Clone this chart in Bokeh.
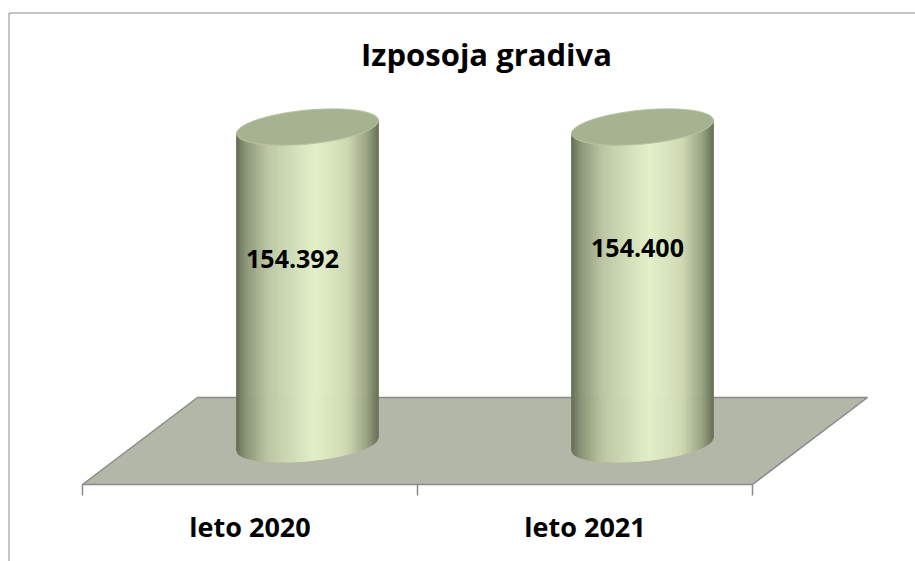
import numpy as np
from bokeh.plotting import figure
from bokeh.models import Range1d
from bokeh.core.properties import value
from bokeh.embed import file_html
from bokeh.resources import INLINE

# ---------------- data ----------------
title_text = "Izposoja gradiva"
categories = ["leto 2020", "leto 2021"]
values = [154392, 154400]
value_labels = ["154.392", "154.400"]

# ---------------- layout / style ----------------
W, H = 915, 561              # figure size
PAGE0 = 0
CAT_X0 = 249.5               # page x of category 0 on the front edge
CAT_STEP = 335.0             # page px per category
FRONT_Y = 484.0              # front edge of the floor (page y)
DEPTH_DX = 115.0             # perspective shift of the floor depth (px)
DEPTH_DY = 87.0
BASE_Y = 443.5               # cylinder base (value 0) page y
AX_MAX = 180000              # value axis maximum
AX_MAX_Y = 74.0              # page y of the axis maximum
K = (BASE_Y - AX_MAX_Y) / AX_MAX   # px per value unit

CYL_HALF_W = 71.0            # px
ELL_B = 17.0                 # ellipse half height, px
SHEAR = 6.5                  # px the right side is higher

FONT = value("Open Sans")
TXT = "#000000"
FLOOR_FILL = "#b3b7a8"
EDGE = "#8a8a8a"
TOP_FILL = "#a7b290"
LABEL_DX = [42.5, 52.5]      # px from category centre
LABEL_DY = [27.0, 38.0]      # px above half height

stops = [(0.0, "#646d55"), (0.07, "#8c9677"), (0.22, "#bcc6a3"),
         (0.55, "#e3f0c8"), (0.78, "#cfdab3"), (0.92, "#9aa484"), (1.0, "#687158")]


def hex2rgb(h):
    return np.array([int(h[i:i + 2], 16) for i in (1, 3, 5)], dtype=float)


def grad(t):
    for (t0, c0), (t1, c1) in zip(stops[:-1], stops[1:]):
        if t0 <= t <= t1:
            f = (t - t0) / (t1 - t0)
            c = hex2rgb(c0) * (1 - f) + hex2rgb(c1) * f
            return "#%02x%02x%02x" % tuple(int(round(v)) for v in c)
    return stops[-1][1]


p = figure(width=W, height=H, output_backend="svg", toolbar_location=None,
           x_range=Range1d(PAGE0, PAGE0 + W), y_range=Range1d(PAGE0 + H, PAGE0),
           x_axis_location=None, y_axis_location=None, min_border=0,
           outline_line_color=None, background_fill_color="white",
           border_fill_color="white")
p.grid.visible = False
p.extra_x_ranges = {"cat": Range1d((PAGE0 - CAT_X0) / CAT_STEP,
                                   (PAGE0 + W - CAT_X0) / CAT_STEP)}
p.extra_y_ranges = {"val": Range1d(-(PAGE0 + H - BASE_Y) / K, (BASE_Y - PAGE0) / K)}

# chart border (left and top visible)
p.segment(x0=[8.5, 8.5], y0=[PAGE0 + H, 12.5],
          x1=[8.5, PAGE0 + W], y1=[12.5, 12.5], line_color=EDGE, line_width=1)

# title
p.text(x=[486], y=[53], text=[title_text], text_font=FONT, text_font_style="bold",
       text_font_size="31px", text_align="center", text_baseline="middle", text_color=TXT)

# floor
n = len(categories)
dcat = DEPTH_DX / CAT_STEP
fx = [-0.5, n - 0.5, n - 0.5 + dcat, -0.5 + dcat]
fy = [FRONT_Y, FRONT_Y, FRONT_Y - DEPTH_DY, FRONT_Y - DEPTH_DY]
p.patch(x=fx, y=fy, x_range_name="cat", fill_color=FLOOR_FILL,
        line_color=EDGE, line_width=1.5)

# category ticks
ticks = [i - 0.5 for i in range(n + 1)]
p.segment(x0=ticks, y0=[FRONT_Y] * len(ticks), x1=ticks, y1=[FRONT_Y + 11] * len(ticks),
          x_range_name="cat", line_color=EDGE, line_width=1.5)

# category labels
p.text(x=list(range(n)), y=[526] * n, text=categories, x_range_name="cat",
       text_font=FONT, text_font_style="bold", text_font_size="27px",
       text_align="center", text_baseline="middle", text_color=TXT)

# cylinders
NS = 72
hw = CYL_HALF_W / CAT_STEP
bval = ELL_B / K
sval = SHEAR / K
for i, v in enumerate(values):
    cx = i + dcat / 2
    xs, ys, cols = [], [], []
    edges = np.linspace(-1, 1, NS + 1)
    for j in range(NS):
        u0, u1 = edges[j], edges[j + 1]
        um = 0.5 * (u0 + u1)
        b0 = -(bval * np.sqrt(max(0.0, 1 - u0 ** 2)) - sval * u0)
        b1 = -(bval * np.sqrt(max(0.0, 1 - u1 ** 2)) - sval * u1)
        t0 = v + sval * u0
        t1 = v + sval * u1
        x0 = cx + u0 * hw
        x1 = cx + u1 * hw
        xs.append([x0, x1, x1, x0])
        ys.append([b0, b1, t1, t0])
        cols.append(grad((um + 1) / 2))
    p.patches(xs=xs, ys=ys, x_range_name="cat", y_range_name="val",
              fill_color=cols, line_color=cols, line_width=0.8)
    t = np.linspace(0, 2 * np.pi, 120)
    ex = cx + hw * np.cos(t)
    ey = v + bval * np.sin(t) + sval * np.cos(t)
    p.patch(x=ex, y=ey, x_range_name="cat", y_range_name="val",
            fill_color=TOP_FILL, line_color="#b9c3a2", line_width=1)

# value labels
lx = [i + LABEL_DX[i] / CAT_STEP for i in range(n)]
ly = [values[i] / 2 + LABEL_DY[i] / K for i in range(n)]
p.text(x=lx, y=ly, text=value_labels, x_range_name="cat", y_range_name="val",
       text_font=FONT, text_font_style="bold", text_font_size="25px",
       text_align="center", text_baseline="middle", text_color=TXT)

open("out.html", "w").write(file_html(p, INLINE))
